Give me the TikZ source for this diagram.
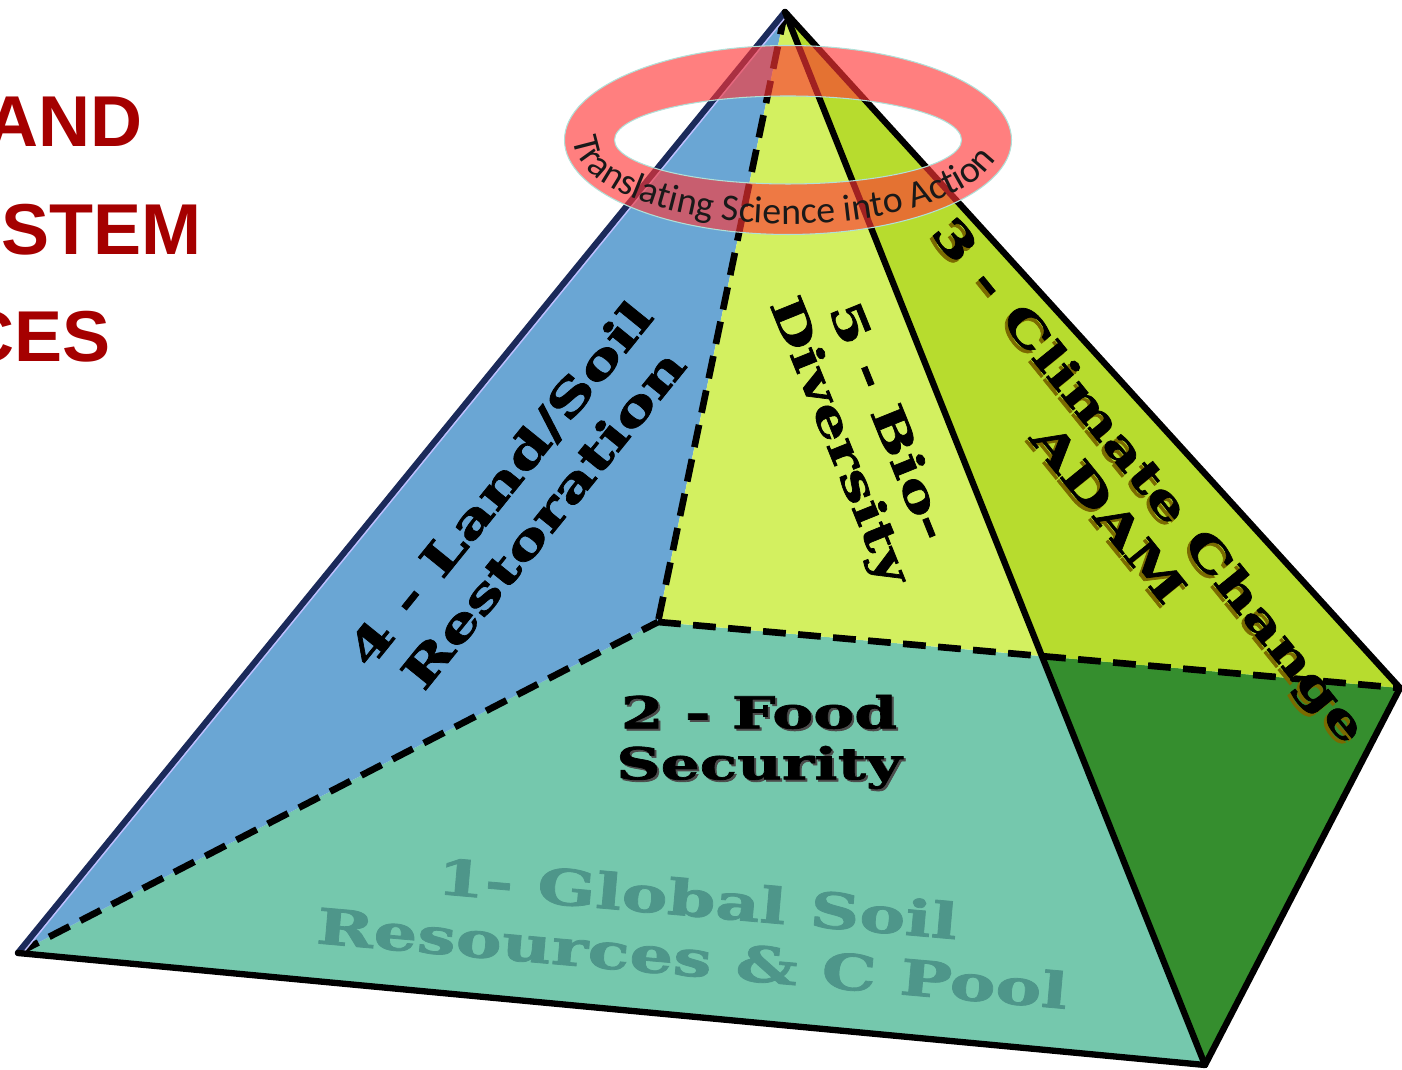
\documentclass[tikz,border=0pt]{standalone}
\usepackage{fontspec}
\newfontfamily\headfont{Liberation Sans}
\newfontfamily\slabfont{DejaVu Serif}[FakeStretch=1.4, FakeBold=1.6]
\newfontfamily\ringfont{Carlito}
\usetikzlibrary{decorations.text}

\definecolor{titlered}{HTML}{A50000}
\definecolor{blueface}{HTML}{6AA6D4}
\definecolor{baseteal}{HTML}{75C8AD}
\definecolor{limeface}{HTML}{D3F060}
\definecolor{rightface}{HTML}{B7DC2E}
\definecolor{darkgreen}{HTML}{358E2E}
\definecolor{labelteal}{HTML}{4E968A}
\definecolor{navy}{HTML}{1B2A5A}
\definecolor{ringred}{HTML}{FF3535}
\definecolor{ringedge}{HTML}{B0E0D8}
\definecolor{olive}{HTML}{7A6A00}

\begin{document}
\begin{tikzpicture}[
    x=0.02cm, y=0.02cm,
    edge/.style={line width=3.6pt, line join=round, line cap=round},
    hidden/.style={line width=3.8pt, dash pattern=on 13pt off 7pt},
    face label/.style={font=\slabfont\bfseries, align=center, inner sep=0pt},
    title/.style={font=\headfont\bfseries\fontsize{41}{41}\selectfont,
        text=titlered, anchor=base east, inner sep=0pt}
]
\useasboundingbox (0,0) rectangle (1402,1070);

% Titre (coupé à gauche)
\node[title] (tAnd) at (143,923) {AND};
\node[title] (tStem) at (202,815) {STEM};
\node[title] (tCes) at (111,708) {CES};

% Sommets de la pyramide
\coordinate (T) at (785,1058); % sommet
\coordinate (L) at (18,117);   % base gauche
\coordinate (B) at (658,448);  % base arrière
\coordinate (R) at (1400,382); % base droite
\coordinate (F) at (1205,5);   % base avant
\coordinate (M) at (intersection of T--F and B--R);

% Faces
\fill[baseteal] (L) -- (B) -- (R) -- (F) -- cycle;
\fill[darkgreen] (M) -- (R) -- (F) -- cycle;
\fill[blueface] (T) -- (L) -- (B) -- cycle;
\fill[limeface] (T) -- (B) -- (M) -- cycle;
\fill[rightface] (T) -- (M) -- (R) -- cycle;

% Arêtes cachées
\draw[hidden] (T) -- (B);
\draw[hidden] (L) -- (B);
\draw[hidden] (B) -- (R);

% Arêtes visibles
\draw[edge, navy] (T) -- (L);
\draw[line width=0.8pt, blue!25] ([xshift=2.8pt]T) -- ([xshift=2.8pt]L);
\draw[edge] (T) -- (F);
\draw[edge] (T) -- (R);
\draw[edge] (R) -- (F) -- (L);

% Textes des faces
\node[face label, rotate=51, font=\slabfont\bfseries\fontsize{26}{32}\selectfont]
    (lblLand) at (521,569) {4 - Land/Soil\\Restoration};
\node[face label, rotate=-68, font=\slabfont\bfseries\fontsize{25}{30}\selectfont]
    (lblBio) at (862,638) {5 - Bio-\\Diversity};
\node[face label, rotate=-51, text=olive, font=\slabfont\bfseries\fontsize{25}{30}\selectfont]
    (lblClimateSh) at (1127,571) {3 - Climate Change\\ADAM};
\node[face label, rotate=-51, font=\slabfont\bfseries\fontsize{25}{30}\selectfont]
    (lblClimate) at (1130,574) {3 - Climate Change\\ADAM};
\node[face label, text=black!70, font=\slabfont\bfseries\fontsize{25}{29}\selectfont]
    (lblFoodSh) at (761,326) {2 - Food\\Security};
\node[face label, font=\slabfont\bfseries\fontsize{25}{29}\selectfont]
    (lblFood) at (759,328) {2 - Food\\Security};
\node[face label, rotate=-5, text=labelteal, font=\slabfont\bfseries\fontsize{28}{34}\selectfont]
    (lblSoil) at (695,142) {1- Global Soil\\Resources \& C Pool};

% Anneau
\coordinate (C) at (788,930);
\filldraw[fill=ringred, fill opacity=0.63, draw=ringedge, line width=0.6pt, even odd rule]
    (C) ellipse [x radius=223.5, y radius=94.5]
    (C) ellipse [x radius=173.5, y radius=44];
\path[decorate, decoration={text along path, text align=center,
        text color=black!90,
        text={|\ringfont\fontsize{21.5}{21.5}\selectfont|Translating Science into Action}}]
    (C) ++(171:214 and 84) arc [start angle=171, end angle=355, x radius=214, y radius=84];

\end{tikzpicture}
\end{document}
